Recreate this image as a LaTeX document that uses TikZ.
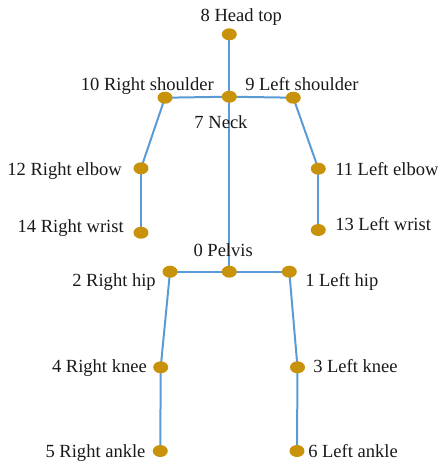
\documentclass[tikz,border=0pt]{standalone}
\usepackage{fontspec}
\setmainfont{Liberation Serif}
\usetikzlibrary{backgrounds,shapes.geometric}
\definecolor{jointc}{HTML}{C8920A}
\definecolor{bonec}{HTML}{5B9BD5}
\tikzset{
  joint/.style={ellipse, fill=jointc, inner sep=0pt, minimum width=11.25pt, minimum height=9pt},
  bone/.style={draw=bonec, line width=1.5pt},
  lbl/.style={inner sep=0pt, font=\fontsize{13.9}{16}\selectfont, text=black!90}
}
\begin{document}
\begin{tikzpicture}[x=0.75pt, y=-0.75pt]
\useasboundingbox (0,0) rectangle (438,462);
% joints
\node[joint] (j8) at (229.3,34.3) {};
\node[joint] (j7) at (229.3,96.7) {};
\node[joint] (j10) at (165,97.7) {};
\node[joint] (j9) at (293.3,97.7) {};
\node[joint] (j12) at (141,168.3) {};
\node[joint] (j11) at (318.3,168.7) {};
\node[joint] (j14) at (141,232.7) {};
\node[joint] (j13) at (318.3,230) {};
\node[joint] (j0) at (229.3,271.7) {};
\node[joint] (j2) at (170,271.7) {};
\node[joint] (j1) at (289.3,271.7) {};
\node[joint] (j4) at (160.7,367.3) {};
\node[joint] (j3) at (297.5,367.3) {};
\node[joint] (j5) at (160.3,451) {};
\node[joint] (j6) at (297,451) {};
% bones
\begin{pgfonlayer}{background}
\draw[bone] (j8.center) -- (j7.center);
\draw[bone] (j7.center) -- (j10.center);
\draw[bone] (j7.center) -- (j9.center);
\draw[bone] (j10.center) -- (j12.center);
\draw[bone] (j12.center) -- (j14.center);
\draw[bone] (j9.center) -- (j11.center);
\draw[bone] (j11.center) -- (j13.center);
\draw[bone] (j7.center) -- (j0.center);
\draw[bone] (j0.center) -- (j2.center);
\draw[bone] (j0.center) -- (j1.center);
\draw[bone] (j2.center) -- (j4.center);
\draw[bone] (j4.center) -- (j5.center);
\draw[bone] (j1.center) -- (j3.center);
\draw[bone] (j3.center) -- (j6.center);
\end{pgfonlayer}
% labels
\node[lbl, anchor=base] (l8) at (241.3,21.7) {8 Head top};
\node[lbl, anchor=base] (l7) at (221,128) {7 Neck};
\node[lbl, anchor=base east] (l10) at (214,90.7) {10 Right shoulder};
\node[lbl, anchor=base west] (l9) at (245,90.7) {9 Left shoulder};
\node[lbl, anchor=base east] (l12) at (122,175) {12 Right elbow};
\node[lbl, anchor=base west] (l11) at (335,175) {11 Left elbow};
\node[lbl, anchor=base east] (l14) at (124,232.3) {14 Right wrist};
\node[lbl, anchor=base west] (l13) at (335,230.7) {13 Left wrist};
\node[lbl, anchor=base west] (l0) at (193.3,256.7) {0 Pelvis};
\node[lbl, anchor=base east] (l2) at (156,286.7) {2 Right hip};
\node[lbl, anchor=base west] (l1) at (305,286.7) {1 Left hip};
\node[lbl, anchor=base east] (l4) at (147,372.7) {4 Right knee};
\node[lbl, anchor=base west] (l3) at (313,372.7) {3 Left knee};
\node[lbl, anchor=base east] (l5) at (145.7,457) {5 Right ankle};
\node[lbl, anchor=base west] (l6) at (308,457) {6 Left ankle};
\end{tikzpicture}
\end{document}
